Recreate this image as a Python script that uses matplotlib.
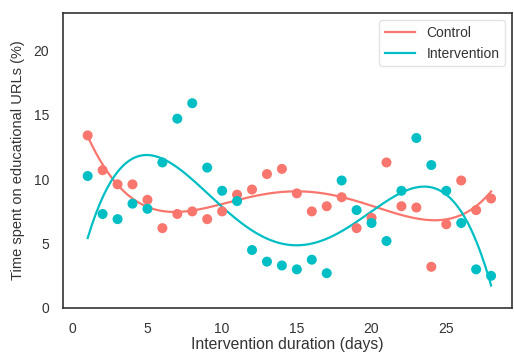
import numpy as np
import matplotlib.pyplot as plt

plt.rcParams['font.family'] = ['Liberation Sans', 'DejaVu Sans']

# days of the intervention
days = list(range(1, 29))

# time spent on educational URLs (%) per day
control = [13.4, 10.7, 9.6, 9.6, 8.4, 6.2, 7.3, 7.5, 6.9, 7.5,
           8.8, 9.2, 10.4, 10.8, 8.9, 7.5, 7.9, 8.6, 6.2, 7.0,
           11.3, 7.9, 7.8, 3.2, 6.5, 9.9, 7.6, 8.5]
intervention = [10.25, 7.3, 6.9, 8.1, 7.7, 11.3, 14.7, 15.9, 10.9, 9.1,
                8.3, 4.5, 3.6, 3.3, 3.0, 3.75, 2.7, 9.9, 7.6, 6.6,
                5.2, 9.1, 13.2, 11.1, 9.1, 6.6, 3.0, 2.5]

series = [('Control', control, '#F8766D'),
          ('Intervention', intervention, '#00BFC4')]
fit_order = 4  # polynomial trend line

fig = plt.figure(figsize=(5.14, 3.53), dpi=100)
ax = fig.add_axes([0.1226, 0.1275, 0.8735, 0.8355])

x = np.array(days, dtype=float)
xs = np.linspace(x.min(), x.max(), 200)
for name, vals, color in series:
    ax.scatter(x, vals, s=52, color=color, edgecolors='none', zorder=3)
    coef = np.polyfit(x, vals, fit_order)
    ax.plot(xs, np.polyval(coef, xs), color=color, lw=1.6, label=name, zorder=2)

ax.set_xlim(-0.65, 29.4)
ax.set_ylim(0, 22.9)
ax.set_xticks([0, 5, 10, 15, 20, 25])
ax.set_yticks([0, 5, 10, 15, 20])
ax.tick_params(length=0, labelsize=10, labelcolor='#333333', pad=10)
for sp in ax.spines.values():
    sp.set_color('#333333')
    sp.set_linewidth(1.2)

ax.set_xlabel('Intervention duration (days)', fontsize=11.3, color='#333333', labelpad=1)
ax.set_ylabel('Time spent on educational URLs (%)', fontsize=10.5, color='#333333', labelpad=6)
ax.legend(loc='upper right', fontsize=10, frameon=True, edgecolor='#dddddd',
          handlelength=2.2, labelcolor='#333333')

fig.savefig('out.png', dpi=100)
